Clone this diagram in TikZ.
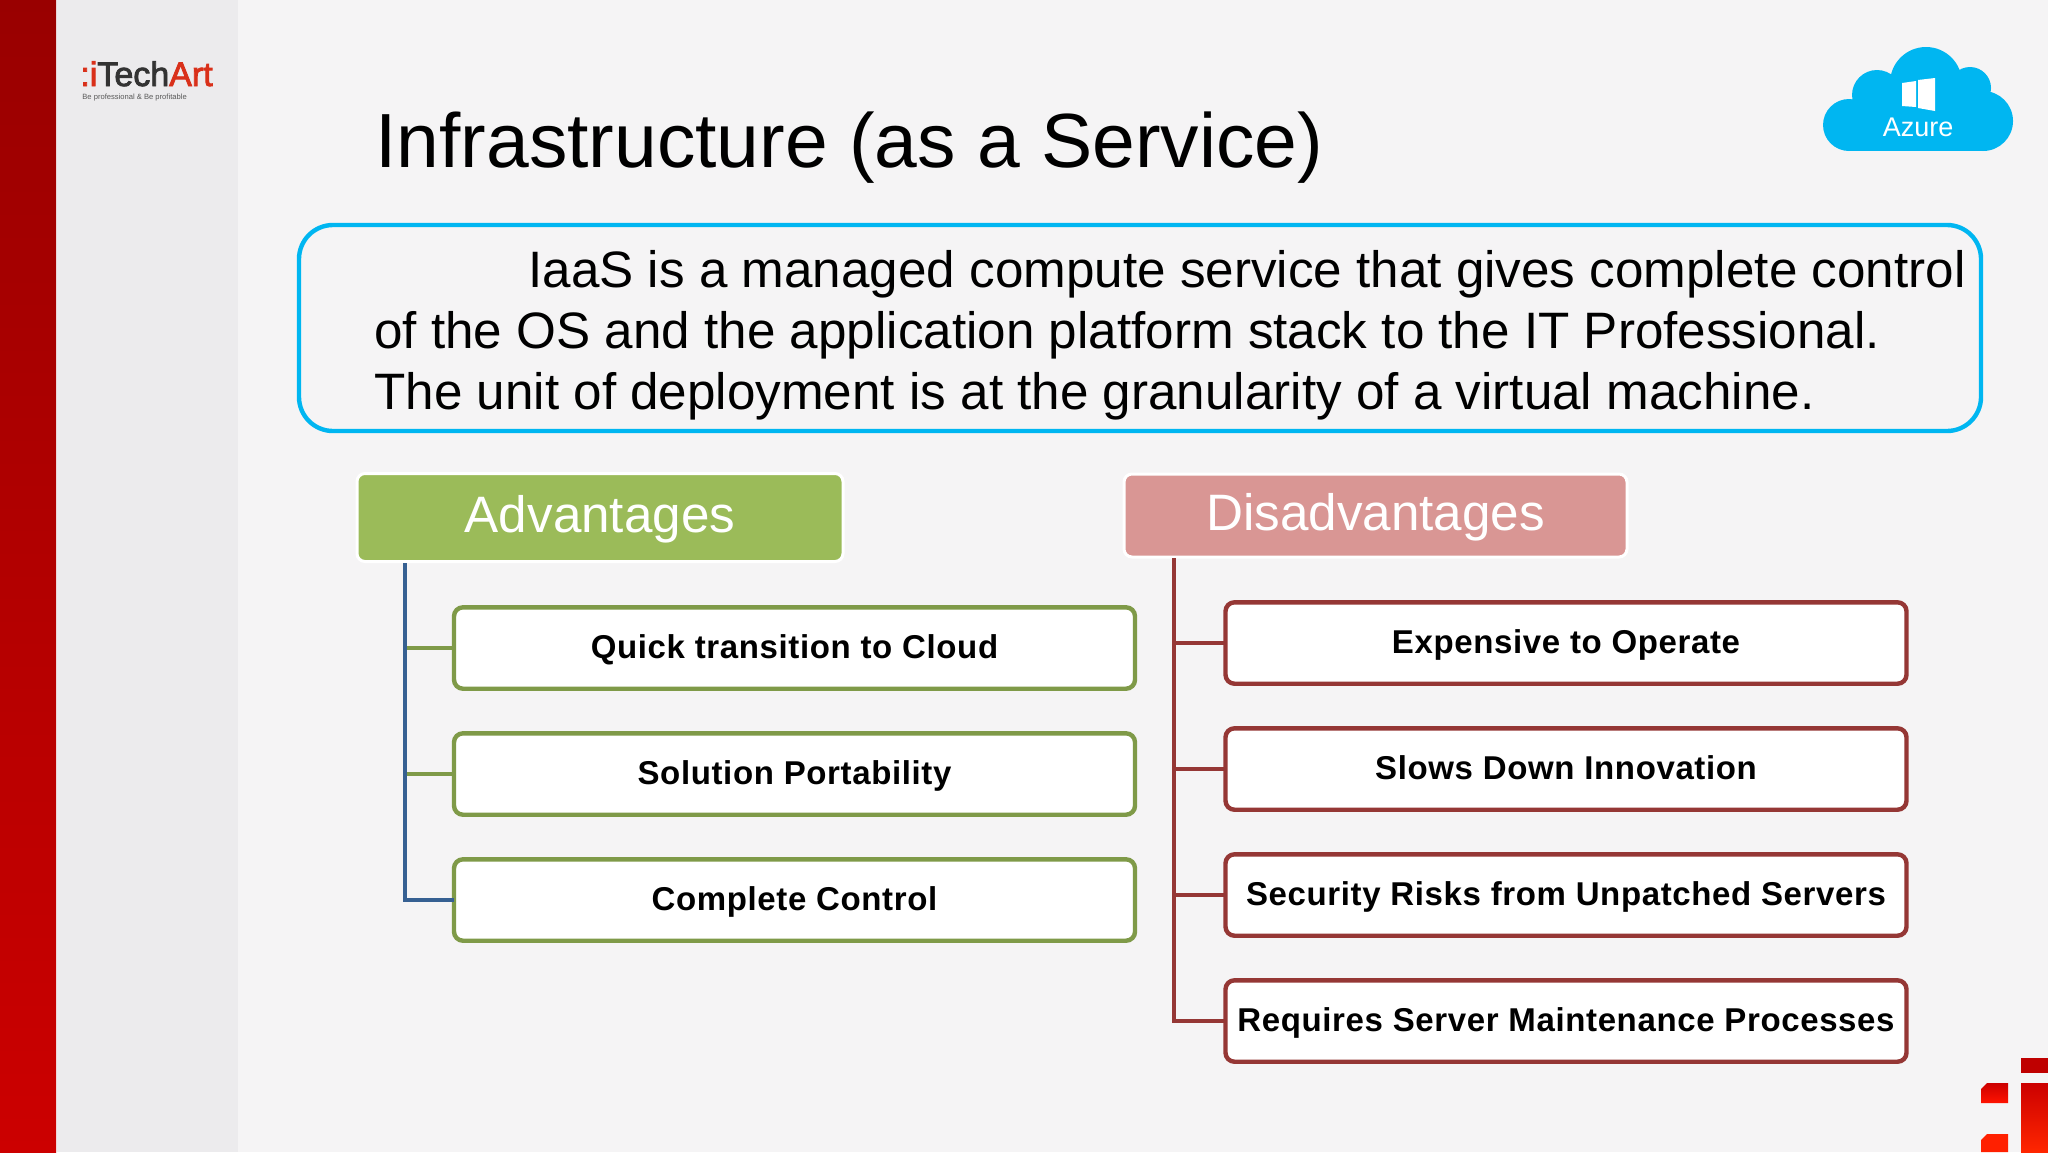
\documentclass[tikz,border=0pt]{standalone}
\usepackage{fontspec}
\setmainfont{Liberation Sans}
\definecolor{pagebg}{HTML}{F5F4F5}
\definecolor{bandgrey}{HTML}{ECEBED}
\definecolor{azure}{HTML}{00B6F1}
\definecolor{okfill}{HTML}{9BBB59}
\definecolor{okline}{HTML}{7F9A48}
\definecolor{badfill}{HTML}{D99694}
\definecolor{badline}{HTML}{953735}
\definecolor{trunkblue}{HTML}{366092}
\definecolor{logored}{HTML}{D9301A}
\tikzset{
  x=0.5pt,y=-0.5pt,
  headbox/.style={draw=white,line width=1.5pt,rounded corners=4pt,text=white,font=\fontsize{25.6}{30}\selectfont,inner sep=0pt,outer sep=0pt,text height=20pt,text depth=5pt},
  itembox/.style={draw,fill=white,line width=2.2pt,rounded corners=4.5pt,minimum width=340.5pt,minimum height=40.7pt,inner sep=0pt,outer sep=0pt,text height=12pt,text depth=2pt,font=\fontsize{16.5}{20}\selectfont\bfseries\addfontfeatures{LetterSpace=1.9}},
  okitem/.style={itembox,draw=okline},
  baditem/.style={itembox,draw=badline},
  link/.style={line width=2.2pt},
  bodyline/.style={anchor=base west,inner sep=0pt,font=\fontsize{25.6}{30}\selectfont},
}
\begin{document}
\begin{tikzpicture}
\useasboundingbox (0,0) rectangle (2048,1152);
% background
\fill[pagebg] (0,0) rectangle (2048,1152);
\fill[bandgrey] (57,0) rectangle (238,1152);
\shade[top color=red!60!black,bottom color=red!80!black] (0,0) rectangle (56,1152);
% logo
\node[anchor=base west,inner sep=0pt,font=\fontsize{17}{18}\selectfont\addfontfeatures{FakeBold=2.5}] (logo) at (80,86)
  {\textcolor{logored}{:i}\textcolor{black!80}{Tech}\textcolor{logored}{Art}};
\node[anchor=base west,inner sep=0pt,font=\fontsize{3.8}{4}\selectfont,text=black!65] (tagline) at (82,99) {Be professional \& Be profitable};
% title
\node[anchor=base west,inner sep=0pt,font=\fontsize{38.4}{46}\selectfont] (title) at (375,167) {Infrastructure (as a Service)};
% azure cloud
\fill[azure] (1849,125) circle[radius=26] (1877,95) circle[radius=25] (1926,83) circle[radius=36]
  (1970,88) circle[radius=21] (1983,121) circle[radius=30];
\fill[azure] (1849,110) rectangle (1983,151);
\fill[azure] (1880,90) rectangle (1965,120);
\fill[white] (1902,83) -- (1916,81) -- (1916,107) -- (1902,106) -- cycle;
\fill[white] (1918,80) -- (1935,78) -- (1935,111) -- (1918,108) -- cycle;
\node[inner sep=0pt,text=white,font=\fontsize{13.5}{16}\selectfont] (azurelabel) at (1918,127) {Azure};
% definition box
\node[draw=azure,line width=2.2pt,fill=none,rounded corners=17pt,minimum width=841pt,minimum height=103pt,inner sep=0pt] (defbox) at (1140,328) {};
\node[bodyline] (line1) at (528,287) {IaaS is a managed compute service that gives complete control};
\node[bodyline] (line2) at (374,348) {of the OS and the application platform stack to the IT Professional.};
\node[bodyline] (line3) at (374,409) {The unit of deployment is at the granularity of a virtual machine.};
% headers
\node[headbox,fill=okfill,minimum width=243pt,minimum height=44pt] (advhead) at (600,517.5) {Advantages};
\node[headbox,fill=badfill,minimum width=251.5pt,minimum height=41.5pt] (dishead) at (1375.5,515.5) {Disadvantages};
% items
\node[okitem] (a1) at (794.5,648) {Quick transition to Cloud};
\node[okitem] (a2) at (794.5,774) {Solution Portability};
\node[okitem] (a3) at (794.5,900) {Complete Control};
\node[baditem] (d1) at (1566,643) {Expensive to Operate};
\node[baditem] (d2) at (1566,769) {Slows Down Innovation};
\node[baditem] (d3) at (1566,895) {Security Risks from Unpatched Servers};
\node[baditem] (d4) at (1566,1021) {Requires Server Maintenance Processes};
% connectors
\coordinate (advroot) at (405,563);
\coordinate (disroot) at (1174,558);
\draw[link,okline] (a1.west) -- (a1.west -| advroot);
\draw[link,okline] (a2.west) -- (a2.west -| advroot);
\draw[link,trunkblue] (advroot) |- (a3.west);
\draw[link,badline] (d1.west) -- (d1.west -| disroot);
\draw[link,badline] (d2.west) -- (d2.west -| disroot);
\draw[link,badline] (d3.west) -- (d3.west -| disroot);
\draw[link,badline] (disroot) |- (d4.west);
% corner mark
\fill[red!75!black] (2021,1058) rectangle (2048,1073);
\shade[top color=red!80!black,bottom color=orange!30!red] (2021,1083) rectangle (2048,1152);
\shade[top color=red!80!black,bottom color=red!85!orange] (1981,1089) -- (1987,1083) -- (2008,1083) -- (2008,1103) -- (1981,1103) -- cycle;
\fill[orange!25!red] (1981,1140) -- (1987,1134) -- (2008,1134) -- (2008,1152) -- (1981,1152) -- cycle;
\end{tikzpicture}
\end{document}
